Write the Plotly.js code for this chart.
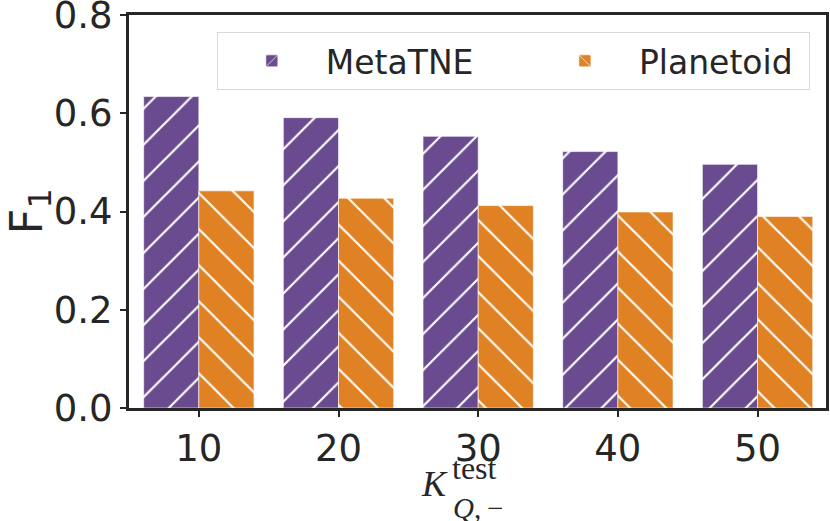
<!DOCTYPE html>
<html>
<head>
<meta charset="utf-8">
<script src="https://cdn.plot.ly/plotly-3.0.1.min.js"></script>
<style>
  html, body { margin: 0; padding: 0; background: #fff; }
  #chart { width: 830px; height: 521px; }
</style>
</head>
<body>
<div id="chart"></div>
<script>
const categories = ["10", "20", "30", "40", "50"];
const metaTNE = [0.634, 0.591, 0.553, 0.522, 0.496];
const planetoid = [0.442, 0.427, 0.412, 0.399, 0.390];

const purple = "#6a4b8f";
const orange = "#e08123";
const ink = "#262626";

function hatched(color, shape) {
  return {
    color: color,
    line: { color: "rgba(255,255,255,0.6)", width: 1 },
    pattern: { shape: shape, fgcolor: "#ffffff", fgopacity: 1, bgcolor: color, size: 25.5, solidity: 0.085, fillmode: "overlay" },
  };
}

// the non-breaking spaces only widen the legend entries
const traces = [
  { type: "bar", name: "MetaTNE\u00a0\u00a0\u00a0\u00a0\u00a0", x: categories, y: metaTNE, marker: hatched(purple, "/") },
  { type: "bar", name: "Planetoid\u00a0", x: categories, y: planetoid, marker: hatched(orange, "\\") },
];

const layout = {
  width: 830,
  height: 521,
  margin: { l: 129, r: 4, t: 15, b: 113 },
  paper_bgcolor: "#fff",
  plot_bgcolor: "#fff",
  font: { family: "DejaVu Sans", color: ink },
  barmode: "group",
  bargap: 0.21,
  bargroupgap: 0,
  showlegend: true,
  legend: {
    orientation: "h",
    x: 0.126,
    y: 0.957,
    xanchor: "left",
    yanchor: "top",
    bgcolor: "#fff",
    bordercolor: "#d9d9d9",
    borderwidth: 1,
    font: { size: 33, color: ink },
    itemwidth: 98,
  },
  xaxis: {
    type: "category",
    range: [-0.5, 4.49],
    showline: true,
    mirror: true,
    linecolor: ink,
    linewidth: 3,
    ticks: "outside",
    ticklen: 6,
    tickwidth: 2,
    tickcolor: ink,
    tickfont: { size: 37, color: ink },
    showgrid: false,
    zeroline: false,
  },
  yaxis: {
    range: [0, 0.8],
    tickvals: [0, 0.2, 0.4, 0.6, 0.8],
    ticktext: ["0.0", "0.2", "0.4", "0.6", "0.8"],
    ticklabeloverflow: "allow",
    showline: true,
    mirror: true,
    linecolor: ink,
    linewidth: 3,
    ticks: "outside",
    ticklen: 6,
    tickwidth: 2,
    tickcolor: ink,
    tickfont: { size: 37, color: ink },
    showgrid: false,
    zeroline: false,
    title: { text: "F<sub>1</sub>", font: { size: 45, color: ink }, standoff: 8 },
  },
  annotations: [
    { text: "<i>K</i>", xref: "paper", yref: "paper", x: 0.438, y: -0.249, showarrow: false,
      font: { family: "Liberation Serif", size: 36, color: ink } },
    { text: "test", xref: "paper", yref: "paper", x: 0.496, y: -0.204, showarrow: false,
      font: { family: "Liberation Serif", size: 32, color: ink } },
    { text: "<i>Q</i>,\u2009−", xref: "paper", yref: "paper", x: 0.500, y: -0.300, showarrow: false,
      font: { family: "Liberation Serif", size: 29, color: ink } },
  ],
};

Plotly.newPlot("chart", traces, layout, { displayModeBar: false, staticPlot: true });
</script>
</body>
</html>
